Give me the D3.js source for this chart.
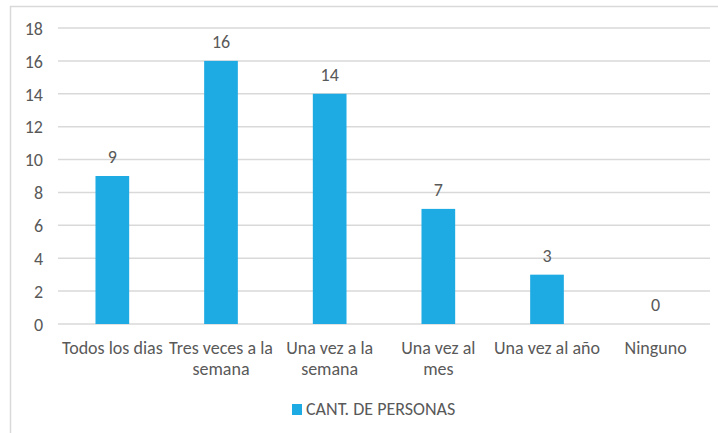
<!DOCTYPE html>
<html>
<head>
<meta charset="utf-8">
<script src="https://cdn.jsdelivr.net/npm/d3@7"></script>
<style>
  body { margin: 0; background: #fff; }
  svg text { font-family: Calibri, Carlito, "Open Sans", sans-serif; fill: #595959; }
</style>
</head>
<body>
<svg id="canvas" width="718" height="433"></svg>
<script>
// datos del grafico
const categories = ["Todos los dias", "Tres veces a la semana", "Una vez a la semana", "Una vez al mes", "Una vez al año", "Ninguno"]
const labelLines = [["Todos los dias"], ["Tres veces a la", "semana"], ["Una vez a la", "semana"], ["Una vez al", "mes"], ["Una vez al año"], ["Ninguno"]]
const values = [9, 16, 14, 7, 3, 0]
const yTicks = [0, 2, 4, 6, 8, 10, 12, 14, 16, 18]
const seriesName = "CANT. DE PERSONAS"

const canvas = d3.select("#canvas")

// marco
canvas.append("rect")
      .attr("x", 10.5).attr("y", 6.5)
      .attr("width", 720).attr("height", 440)
      .attr("fill", "none")
      .attr("stroke", "#d9d9d9")
      .attr("stroke-width", 1.5)

const plotLeft = 58, plotRight = 710, plotTop = 28, plotBottom = 324

const x = d3.scaleBand()
            .domain(categories)
            .range([plotLeft, plotRight])
            .paddingInner(0.69)
            .paddingOuter(0.345)

const xBand = d3.scaleBand().domain(categories).range([plotLeft, plotRight])

const y = d3.scaleLinear()
            .domain([0, 18])
            .range([plotBottom, plotTop])

// lineas de cuadricula
canvas.append("g")
      .selectAll("line")
      .data(yTicks)
      .enter()
      .append("line")
      .attr("x1", plotLeft).attr("x2", plotRight)
      .attr("y1", d => y(d)).attr("y2", d => y(d))
      .attr("stroke", "#d9d9d9")
      .attr("stroke-width", 1.5)

// eje y
const yAxis = d3.axisLeft(y).tickValues(yTicks).tickSize(0).tickPadding(0)
canvas.append("g")
      .attr("transform", "translate(43, 0)")
      .call(yAxis)
      .call(g => g.select(".domain").remove())
      .selectAll("text")
      .attr("dy", "0.35em")
      .style("font-size", "18px")

// barras
canvas.append("g")
      .selectAll("rect")
      .data(values)
      .enter()
      .append("rect")
      .attr("x", (v, i) => x(categories[i]))
      .attr("y", v => y(v))
      .attr("width", x.bandwidth())
      .attr("height", v => y(0) - y(v))
      .attr("fill", "#1eabe3")

// etiquetas de datos
canvas.append("g")
      .selectAll("text")
      .data(values)
      .enter()
      .append("text")
      .attr("x", (v, i) => x(categories[i]) + x.bandwidth() / 2)
      .attr("y", v => y(v) - 13)
      .attr("text-anchor", "middle")
      .style("font-size", "18px")
      .text(v => v)

// etiquetas del eje x
const xLabels = canvas.append("g")
                      .selectAll("text")
                      .data(categories)
                      .enter()
                      .append("text")
                      .attr("x", c => xBand(c) + xBand.bandwidth() / 2)
                      .attr("y", 354)
                      .attr("text-anchor", "middle")
                      .style("font-size", "18px")

xLabels.selectAll("tspan")
       .data((c, i) => labelLines[i])
       .enter()
       .append("tspan")
       .attr("x", function () { return d3.select(this.parentNode).attr("x") })
       .attr("dy", (t, j) => j === 0 ? 0 : 21)
       .text(t => t)

// leyenda
const legend = canvas.append("g")
legend.append("rect")
      .attr("x", 292).attr("y", 404)
      .attr("width", 10).attr("height", 11)
      .attr("fill", "#1eabe3")
legend.append("text")
      .attr("x", 306).attr("y", 415)
      .style("font-size", "18px")
      .text(seriesName)
</script>
</body>
</html>
